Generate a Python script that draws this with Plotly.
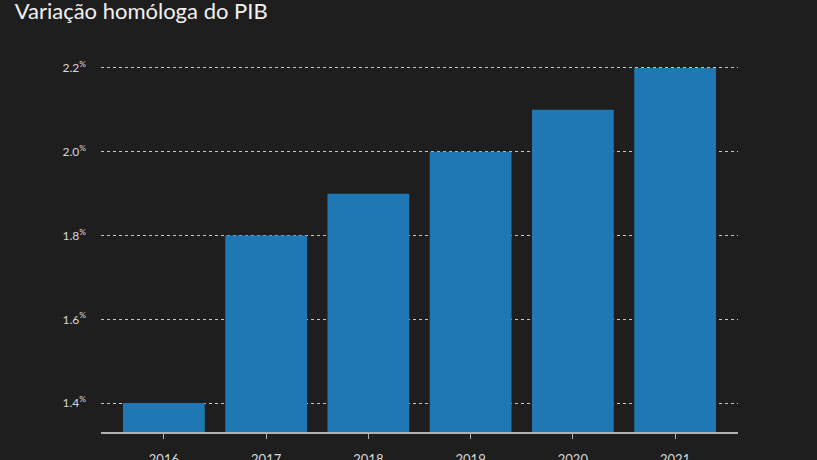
import plotly.graph_objects as go

years = ["2016", "2017", "2018", "2019", "2020", "2021"]
gdp_change = [1.4, 1.8, 1.9, 2.0, 2.1, 2.2]
y_ticks = [1.4, 1.6, 1.8, 2.0, 2.2]
y_ticktext = [f"{v:.1f}<sup>%</sup>" for v in y_ticks]

bg = "#1e1e1e"
font_name = "Lato"

fig = go.Figure()
fig.add_trace(go.Bar(
    x=years,
    y=gdp_change,
    marker_color="#1f77b4",
    marker_line_width=0,
    width=0.8,
    hoverinfo="x+y",
))

fig.update_layout(
    width=817,
    height=460,
    paper_bgcolor=bg,
    plot_bgcolor=bg,
    margin=dict(l=101, r=79, t=47, b=28),
    font=dict(family=font_name, color="#d8d8d8", size=12),
    title=dict(
        text="Variação homóloga do PIB",
        x=0.018, xanchor="left",
        y=0.992, yanchor="top",
        font=dict(family=font_name, size=22, color="#f2f2f2"),
    ),
    showlegend=False,
    xaxis=dict(
        type="category",
        range=[-0.615, 5.615],
        automargin=False,
        showgrid=False,
        showline=True,
        linecolor="#b0b0b0",
        linewidth=1.5,
        ticks="outside",
        ticklen=5,
        tickcolor="#b0b0b0",
        ticklabelstandoff=10,
        tickfont=dict(size=13, color="#d8d8d8"),
    ),
    yaxis=dict(
        range=[1.331, 2.25],
        automargin=False,
        tickmode="array",
        tickvals=y_ticks,
        ticktext=y_ticktext,
        showgrid=True,
        gridcolor="#c8c8c8",
        griddash="dot",
        gridwidth=1,
        zeroline=False,
        showline=False,
        ticks="",
        ticklabelstandoff=14,
        tickfont=dict(size=12, color="#d8d8d8"),
    ),
)

# drop the page margin so the figure fills the window
fig.write_html(
    "out.html",
    config={"displayModeBar": False},
    post_script="document.body.style.margin='0';"
                "document.body.style.background='#1e1e1e';"
                "document.body.style.overflow='hidden';",
)
